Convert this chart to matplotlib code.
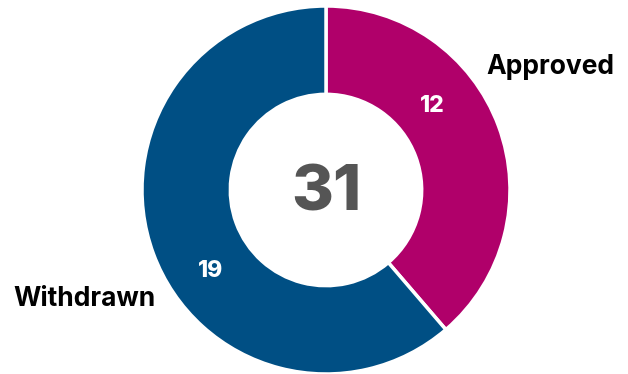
import matplotlib
matplotlib.use("Agg")
import matplotlib.pyplot as plt

# data
labels = ["Approved", "Withdrawn"]
values = [12, 19]
colors = ["#B0006A", "#004F84"]
total = sum(values)

plt.rcParams['font.family'] = ['Inter', 'DejaVu Sans']

fig = plt.figure(figsize=(6.28, 3.74), dpi=100)
ax = fig.add_axes([142 / 628, 0, 368 / 628, 368 / 374])

wedges, _ = ax.pie(values, colors=colors, startangle=90, counterclock=False,
                   radius=1, wedgeprops=dict(width=0.48, edgecolor="white", linewidth=2.5))
ax.set_xlim(-1, 1)
ax.set_ylim(-1, 1)
ax.set_aspect("equal")
ax.axis("off")

# value labels inside the ring
ax.text(0.576, 0.457, str(values[0]), color="white", fontsize=16.5, fontweight="heavy",
        ha="center", va="center")
ax.text(-0.63, -0.44, str(values[1]), color="white", fontsize=16.5, fontweight="heavy",
        ha="center", va="center")

# category labels outside
ax.text(1.22, 0.67, labels[0], color="black", fontsize=19, fontweight="bold",
        ha="center", va="center", clip_on=False)
ax.text(-1.315, -0.59, labels[1], color="black", fontsize=19, fontweight="bold",
        ha="center", va="center", clip_on=False)

# total in the middle
ax.text(0, -0.02, str(total), color="#555555", fontsize=46, fontweight="heavy",
        ha="center", va="center")

fig.savefig("out.png", dpi=100)
